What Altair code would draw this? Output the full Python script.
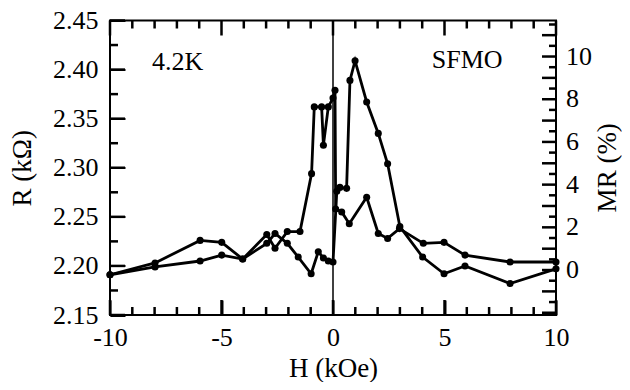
import altair as alt
import pandas as pd

FONT = "Liberation Serif"
W, HT = 446, 294.5

# Branch swept from -10 kOe up to +10 kOe
up_H = [-10, -7.98, -5.96, -4.99, -4.05, -2.97, -2.6, -2.05, -1.56, -0.98, -0.66, -0.43,
        -0.21, 0.0, 0.17, 0.31, 0.61, 0.76, 0.99, 1.51, 2.03, 2.45, 3.0, 4.02, 4.98,
        5.92, 7.94, 10]
up_R = [2.191, 2.199, 2.205, 2.211, 2.207, 2.223, 2.233, 2.223, 2.209, 2.192, 2.2145, 2.208,
        2.205, 2.204, 2.276, 2.280, 2.279, 2.389, 2.409, 2.367, 2.335, 2.304, 2.240, 2.209,
        2.192, 2.200, 2.182, 2.197]

# Branch swept from +10 kOe down to -10 kOe
down_H = [10, 7.94, 5.92, 4.98, 4.05, 2.98, 2.45, 2.03, 1.51, 0.73, 0.39, 0.12, 0.09, 0.0,
          -0.21, -0.43, -0.51, -0.84, -0.96, -1.48, -2.05, -2.6, -2.97, -4.05, -4.99,
          -5.96, -7.98, -10]
down_R = [2.204, 2.204, 2.211, 2.224, 2.223, 2.238, 2.228, 2.233, 2.270, 2.243, 2.255, 2.258,
          2.379, 2.371, 2.362, 2.323, 2.362, 2.362, 2.294, 2.235, 2.235, 2.218, 2.232,
          2.207, 2.224, 2.226, 2.203, 2.191]

x_major = [-10, -5, 0, 5, 10]
x_minor = [-9, -8, -7, -6, -4, -3, -2, -1, 1, 2, 3, 4, 6, 7, 8, 9]
r_major = [2.15, 2.20, 2.25, 2.30, 2.35, 2.40, 2.45]
r_minor = [2.175, 2.225, 2.275, 2.325, 2.375, 2.425]
mr_labels = [0, 2, 4, 6, 8, 10]
mr_major = [-2, -1, 0, 1, 2, 3, 4, 5, 6, 7, 8, 9, 10, 11]
mr_minor = [-1.5, -0.5, 0.5, 1.5, 2.5, 3.5, 4.5, 5.5, 6.5, 7.5, 8.5, 9.5, 10.5, 11.5]

# right (MR) axis read against the left (R) axis: MR = 0 at R = 2.1958,
# 1 % of MR spans 0.02175 kOhm
MR_ZERO_R = 2.1958
R_PER_MR = 0.02175

labels = ["4.2K", "SFMO"]
label_H = [-8.12, 4.43]
label_R = [2.4077, 2.4098]

rows = []
for i, (h, r) in enumerate(zip(up_H, up_R)):
    rows.append({"H": h, "R": r, "branch": "up", "idx": i})
for i, (h, r) in enumerate(zip(down_H, down_R)):
    rows.append({"H": h, "R": r, "branch": "down", "idx": i})
df = pd.DataFrame(rows)
zero_df = pd.DataFrame({"H": [0]})
txt_df = pd.DataFrame({"H": label_H, "R": label_R, "label": labels})


def mr_to_r(values):
    return [MR_ZERO_R + R_PER_MR * m for m in values]


mr_lab_df = pd.DataFrame({"R": mr_to_r(mr_labels), "MR": [str(m) for m in mr_labels]})
mr_title_df = pd.DataFrame({"t": ["MR (%)"]})

xs = alt.Scale(domain=[-10, 10], nice=False, zero=False)
rs = alt.Scale(domain=[2.15, 2.45], nice=False, zero=False)

common = dict(domain=False, grid=False, ticks=True, tickColor="black", tickWidth=2,
              labelFont=FONT, labelFontSize=26, labelColor="black",
              labelOverlap=False, labelFlush=False,
              titleFont=FONT, titleFontSize=27, titleColor="black",
              titleFontWeight="normal")

# major ticks drawn by the axes themselves, pulled inside the frame
ax_bottom = alt.Axis(orient="bottom", values=x_major, tickSize=15, offset=-15,
                     labelPadding=9, labelExpr="'' + datum.value",
                     title="H (kOe)", titlePadding=5, **common)
ax_left = alt.Axis(orient="left", values=r_major, tickSize=15, offset=-15,
                   labelPadding=12, format=".2f",
                   title="R (kΩ)", titlePadding=16, **common)

X = alt.X("H:Q", scale=xs, axis=ax_bottom)
YR = alt.Y("R:Q", scale=rs, axis=ax_left)

TICK = dict(color="#000000", strokeWidth=2.5)


def x_ticks(values, length):
    d = pd.DataFrame({"H": values})
    return [
        alt.Chart(d).mark_rule(**TICK).encode(
            x=X, y=alt.value(HT), y2=alt.value(HT - length)),
        alt.Chart(d).mark_rule(**TICK).encode(
            x=X, y=alt.value(0), y2=alt.value(length)),
    ]


def y_ticks(values, length, side):
    d = pd.DataFrame({"R": values})
    if side == "left":
        a, b = 0, length
    else:
        a, b = W, W - length
    return [alt.Chart(d).mark_rule(**TICK).encode(y=YR, x=alt.value(a), x2=alt.value(b))]


zero_rule = alt.Chart(zero_df).mark_rule(color="black", strokeWidth=1.5).encode(x=X)

data_layer = alt.Chart(df).mark_line(
    color="black", strokeWidth=2.8,
    point=alt.OverlayMarkDef(filled=True, size=50, color="black", opacity=1),
).encode(
    x=X, y=YR,
    detail="branch:N",
    order="idx:Q",
)

text_layer = alt.Chart(txt_df).mark_text(
    font=FONT, fontSize=26, color="black", align="left", baseline="middle"
).encode(x=X, y=YR, text="label:N")

mr_label_layer = alt.Chart(mr_lab_df).mark_text(
    font=FONT, fontSize=26, color="black", align="left", baseline="middle"
).encode(x=alt.value(W + 10), y=YR, text="MR:N")

mr_title_layer = alt.Chart(mr_title_df).mark_text(
    font=FONT, fontSize=27, color="black", align="center", baseline="middle",
    angle=270,
).encode(x=alt.value(W + 52), y=alt.value(HT / 2), text="t:N")

chart = alt.layer(
    *x_ticks(x_major, 15), *x_ticks(x_minor, 8),
    *y_ticks(r_major, 15, "left"), *y_ticks(r_minor, 8, "left"),
    *y_ticks(mr_to_r(mr_major), 14, "right"), *y_ticks(mr_to_r(mr_minor), 7, "right"),
    zero_rule, data_layer, text_layer, mr_label_layer, mr_title_layer,
).properties(
    width=W, height=HT,
    autosize=alt.AutoSizeParams(type="none"),
    padding={"left": 102, "top": 12.5, "right": 66, "bottom": 67},
    background="white",
).configure_view(
    stroke="black", strokeWidth=2
)

chart.save("out.html", embed_options={"renderer": "svg", "actions": False})
